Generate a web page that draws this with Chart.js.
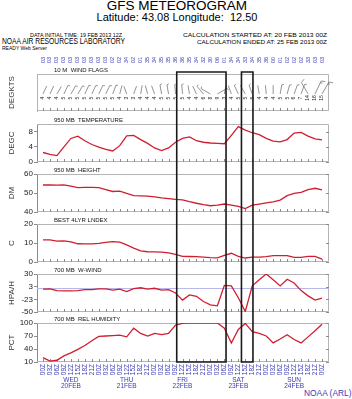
<!DOCTYPE html>
<html lang="en">
<head>
<meta charset="UTF-8">
<title>GFS Meteogram</title>
<style>
  body { margin: 0; background: #fff; width: 352px; height: 399px; overflow: hidden; position: relative; }
  canvas { position: absolute; left: 0; }
  .t { position: absolute; white-space: pre; color: #000; }
</style>
</head>
<body>
<script src="https://cdn.jsdelivr.net/npm/chart.js@4.4.1/dist/chart.umd.min.js"></script>
<script>
// time axis: 3-hourly steps, 20 FEB 00Z .. 25 FEB 00Z
const timeLabels = ['00Z','03Z','06Z','09Z','12Z','15Z','18Z','21Z',
                    '00Z','03Z','06Z','09Z','12Z','15Z','18Z','21Z',
                    '00Z','03Z','06Z','09Z','12Z','15Z','18Z','21Z',
                    '00Z','03Z','06Z','09Z','12Z','15Z','18Z','21Z',
                    '00Z','03Z','06Z','09Z','12Z','15Z','18Z','21Z','00Z'];
const dayNames = ['WED','THU','FRI','SAT','SUN'];
const dayDates = ['20FEB','21FEB','22FEB','23FEB','24FEB'];
const dayAt = [4, 12, 20, 28, 36];

// 10 m wind: direction (deg) and speed (kt)
const windDir = [25,25,30,25,30,30,25,25,25,25, 20,15,340,20,10,345,340,350,350,355,
                 355,350,335,320,300,60,10,340,335,330, 340,350,355,0,10,15,20,20,330,25, 30];
const windSpd = [4,4,4,5,5,5,5,5,5,5, 5,4,3,3,4,4,4,5,5,5,
                 5,4,4,6,8,9,3,4,5,5, 5,4,4,4,5,5,6,7,14,16, 15];

const temp950 = [2.5,2.0,1.7,4.0,6.2,6.8,5.6,4.6,3.9,3.3, 2.9,4.3,6.9,7.0,5.9,4.9,3.7,3.0,3.7,5.2,
                 6.2,6.6,5.6,5.2,5.0,4.9,4.8,7.0,9.3,8.4, 7.7,7.2,6.2,5.5,5.3,5.9,7.6,7.8,6.8,6.1, 5.8];
const hgt950 = [54.2,54.2,54.1,54.3,53.6,52.8,53.0,53.0,52.8,51.8, 50.8,51.0,49.8,48.6,48.5,48.4,48.0,47.4,47.0,46.6,
                46.4,45.4,44.6,43.9,43.3,43.6,44.2,43.6,43.0,41.8, 43.6,44.2,44.8,45.3,46.3,48.6,49.8,50.3,51.8,52.5, 51.7];
const liBest = [11.6,11.6,11.0,11.1,10.6,9.6,9.5,9.5,9.8,10.3, 10.7,10.5,9.0,7.3,5.9,5.4,5.3,5.2,4.8,4.0,
                3.0,2.9,2.8,2.6,2.3,2.2,3.5,4.6,3.0,2.1, 2.6,2.6,2.8,3.4,3.4,3.4,2.4,2.4,3.0,3.0, 1.5];
const wWind700 = [-2,-1.5,-5,-5.5,-5.5,-5,-3,-3,-1.5,-1.5, -4,-2,-7,-1,1,-2,0,-4,-3,-10,
                  -25,-14,-17,-28,-35,-37,6,5,-20,-49, 5,18,30,18,5,19,11,-5,-16,-25, -21];
const rh700 = [20,12,14,24,31,39,48,59,69,70, 71,72,68,88,76,70,76,73,76,95,
               99,100,100,100,100,100,88,54,85,99, 80,76,70,54,63,73,62,54,68,82, 97];

const wwTicks = [30, 16.67, 3.33, -10, -23.33, -36.67, -50];
const boxFrom = [19.17, 28.45];
const boxTo = [26.24, 30.1];

const RED = 'rgb(208,30,48)';
const BLUE = '#3a3ab4';
const FRAME = '#b4b4b4';
const AXIS = '#8c8c8c';
const FONT = "'Liberation Sans', Arial, sans-serif";
Chart.defaults.font.family = FONT;

function putText(txt, x, base, size, align, width, color) {
  const d = document.createElement('div');
  d.className = 't';
  d.textContent = txt;
  d.style.font = size + 'px ' + FONT;
  d.style.lineHeight = size + 'px';
  d.style.top = (base - 0.85 * size) + 'px';
  d.style.color = color || '#000';
  document.body.appendChild(d);
  const nat = d.getBoundingClientRect().width;
  const sx = width ? width / nat : 1;
  const w = nat * sx;
  const left = align === 'center' ? x - w / 2 : align === 'right' ? x - w : x;
  d.style.left = left + 'px';
  d.style.transformOrigin = '0 0';
  d.style.transform = 'scaleX(' + sx + ')';
}

putText('GFS METEOROGRAM', 177, 10.5, 13.5, 'center');
putText('Latitude: 43.08 Longitude:  12.50', 177, 21.5, 11, 'center');
putText('DATA INITIAL TIME: 19 FEB 2013 12Z', 30, 37.5, 6, 'left', 92);
putText('NOAA AIR RESOURCES LABORATORY', 2, 45, 9, 'left', 123);
putText('READY Web Server', 2, 50.5, 6, 'left', 45);
putText('CALCULATION STARTED AT: 20 FEB 2013 00Z', 327, 37.5, 6, 'right', 144);
putText('CALCULATION ENDED AT: 25 FEB 2013 00Z', 327, 44, 6, 'right', 130);
putText('NOAA (ARL)', 304, 396.5, 8.4, 'left', 0, BLUE);

function drawBarb(ctx, x0, y0, dir, spd) {
  const L = 7 + spd * 0.45;
  const r = dir * Math.PI / 180;
  const ux = Math.sin(r), uy = -Math.cos(r);
  const x1 = x0 + ux * L, y1 = y0 + uy * L;
  const px = -uy, py = ux;
  ctx.moveTo(x0, y0);
  ctx.lineTo(x1, y1);
  let pos = 0;
  for (let k = 0; k < Math.floor(spd / 10); k++) {
    const bx = x1 - ux * pos, by = y1 - uy * pos;
    ctx.moveTo(bx, by);
    ctx.lineTo(bx + px * 4 + ux * 1.5, by + py * 4 + uy * 1.5);
    pos += 2;
  }
  if (spd % 10 >= 5) {
    const bx = x1 - ux * pos, by = y1 - uy * pos;
    ctx.moveTo(bx, by);
    ctx.lineTo(bx + px * 2 + ux * 0.8, by + py * 2 + uy * 0.8);
  }
}

const deco = {
  id: 'deco',
  beforeDatasetsDraw(chart, args, o) {
    const { ctx, chartArea: a, scales: { x, y } } = chart;
    ctx.save();
    ctx.lineWidth = 1;
    ctx.strokeStyle = FRAME;
    ctx.beginPath();
    ctx.moveTo(a.left, a.top + 0.5);
    ctx.lineTo(a.right - 0.5, a.top + 0.5);
    ctx.lineTo(a.right - 0.5, a.bottom - 0.5);
    ctx.lineTo(a.left, a.bottom - 0.5);
    ctx.stroke();
    if (o.zero) {
      ctx.beginPath();
      ctx.strokeStyle = '#b8b8ec';
      const py = Math.round(y.getPixelForValue(0)) + 0.5;
      ctx.moveTo(a.left, py);
      ctx.lineTo(a.right, py);
      ctx.stroke();
    }
    ctx.beginPath();
    ctx.strokeStyle = AXIS;
    for (let i = 0; i < timeLabels.length; i++) {
      const px = Math.round(x.getPixelForValue(i)) + 0.5;
      ctx.moveTo(px, a.bottom);
      ctx.lineTo(px, a.bottom - 3);
    }
    if (o.rticks) {
      y.ticks.forEach(t => {
        const py = Math.round(y.getPixelForValue(t.value)) + 0.5;
        ctx.moveTo(a.right, py);
        ctx.lineTo(a.right - 3, py);
      });
    }
    ctx.stroke();

    if (o.wind) {
      ctx.beginPath();
      ctx.strokeStyle = '#666';
      ctx.lineWidth = 0.7;
      const yb = y.getPixelForValue(0.46);
      windDir.forEach((d, i) => drawBarb(ctx, x.getPixelForValue(i), yb, d, windSpd[i]));
      ctx.stroke();
      const ys = y.getPixelForValue(0.35);
      ctx.textAlign = 'center';
      ctx.textBaseline = 'middle';
      windDir.forEach((d, i) => {
        const px = x.getPixelForValue(i);
        ctx.save();
        ctx.translate(px, a.top - 14);
        ctx.rotate(-Math.PI / 2);
        ctx.fillStyle = BLUE;
        ctx.font = '5.5px ' + FONT;
        ctx.fillText(String(Math.round(d / 10)).padStart(2, '0'), 0, 0);
        ctx.restore();
        ctx.save();
        ctx.translate(px, ys);
        ctx.rotate(-Math.PI / 2);
        ctx.fillStyle = '#222';
        ctx.font = '5px ' + FONT;
        ctx.fillText(String(windSpd[i]), 0, 0);
        ctx.restore();
      });
    }
    ctx.restore();
  },
  afterDraw(chart, args, o) {
    const { ctx, chartArea: a, scales: { x } } = chart;
    ctx.save();
    ctx.fillStyle = '#111';
    ctx.font = '6px ' + FONT;
    ctx.textBaseline = 'alphabetic';
    ctx.fillText(o.title, a.left + 17, a.top - 2);

    if (o.days) {
      ctx.fillStyle = BLUE;
      ctx.font = '6.5px ' + FONT;
      ctx.textAlign = 'center';
      dayAt.forEach((v, i) => {
        const px = x.getPixelForValue(v);
        ctx.fillText(dayNames[i], px, a.bottom + 20);
        ctx.fillText(dayDates[i], px, a.bottom + 26);
      });
    }

    ctx.strokeStyle = '#1a1a1a';
    ctx.lineWidth = 1.6;
    ctx.beginPath();
    const top = o.first ? a.top - 2 : 0;
    boxFrom.forEach((v, i) => {
      const x1 = x.getPixelForValue(v), x2 = x.getPixelForValue(boxTo[i]);
      ctx.moveTo(x1, top); ctx.lineTo(x1, a.bottom);
      ctx.moveTo(x2, top); ctx.lineTo(x2, a.bottom);
      if (o.first) { ctx.moveTo(x1 - 0.8, top); ctx.lineTo(x2 + 0.8, top); }
      if (o.last) { ctx.moveTo(x1 - 0.8, a.bottom); ctx.lineTo(x2 + 0.8, a.bottom); }
    });
    ctx.stroke();
    ctx.restore();
  }
};

const panels = [
  { unit: 'DEGKTS', title: '10 M  WIND FLAGS', top: 74, bottom: 111, ctop: 52, wind: true },
  { unit: 'DEGC', title: '950 MB  TEMPERATURE', top: 124, bottom: 162, data: temp950, min: 0, max: 10, step: 2 },
  { unit: 'DM', title: '950 MB  HEIGHT', top: 174, bottom: 212, data: hgt950, min: 40, max: 60, step: 10 },
  { unit: 'C', title: 'BEST 4LYR LNDEX', top: 224, bottom: 262, data: liBest, min: 0, max: 20, step: 10 },
  { unit: 'HPA/H', title: '700 MB  W-WIND', top: 274, bottom: 312, data: wWind700, min: -50, max: 30, ticks: wwTicks, zero: true },
  { unit: 'PCT', title: '700 MB  REL HUMIDITY', top: 323, bottom: 362, data: rh700, min: 10, max: 100, step: 15, last: true }
];

panels.forEach((p, k) => {
  const ctop = k === 0 ? p.ctop : panels[k - 1].bottom;
  const cbot = p.last ? 399 : p.bottom + 6;
  const cv = document.createElement('canvas');
  cv.width = 352;
  cv.height = cbot - ctop;
  cv.style.top = ctop + 'px';
  document.body.appendChild(cv);

  const yAxis = {
    min: p.wind ? 0 : p.min,
    max: p.wind ? 1 : p.max,
    ticks: {
      display: !p.wind,
      stepSize: p.step,
      font: { size: 8 },
      color: '#222',
      padding: 1,
      callback: v => String(Math.trunc(v))
    },
    grid: { display: !p.wind, drawOnChartArea: false, tickLength: 3, color: AXIS },
    border: { display: true, color: p.wind ? FRAME : AXIS },
    title: { display: true, text: p.unit, font: { size: 8 }, color: '#333', padding: { top: 7, bottom: 0 } },
    afterFit(s) { s.width = 37; }
  };
  if (p.ticks) yAxis.afterBuildTicks = s => { s.ticks = p.ticks.map(v => ({ value: v })); };

  const xAxis = { type: 'linear', min: -0.86, max: 41.0, display: false };
  if (p.last) {
    Object.assign(xAxis, {
      display: true,
      grid: { display: false, drawTicks: false },
      border: { display: false },
      ticks: {
        autoSkip: false, minRotation: 90, maxRotation: 90,
        font: { size: 6.5 }, color: BLUE, padding: 2,
        callback: v => timeLabels[v]
      },
      afterBuildTicks: s => { s.ticks = timeLabels.map((_, i) => ({ value: i })); },
      afterFit(s) { s.height = 37; }
    });
  }

  new Chart(cv.getContext('2d'), {
    type: 'line',
    data: {
      datasets: p.data ? [{
        data: p.data.map((v, i) => ({ x: i, y: v })),
        borderColor: RED,
        borderWidth: 1.3,
        pointRadius: 0,
        tension: 0,
        fill: false
      }] : []
    },
    options: {
      responsive: false,
      animation: false,
      devicePixelRatio: 1,
      layout: { padding: { top: p.top - ctop, right: 23, bottom: p.last ? 0 : 6, left: 0 } },
      plugins: {
        legend: { display: false },
        tooltip: { enabled: false },
        deco: { title: p.title, first: k === 0, last: !!p.last, wind: !!p.wind,
                zero: !!p.zero, rticks: !p.wind, days: !!p.last }
      },
      scales: { x: xAxis, y: yAxis }
    },
    plugins: [deco]
  });
});
</script>
</body>
</html>
